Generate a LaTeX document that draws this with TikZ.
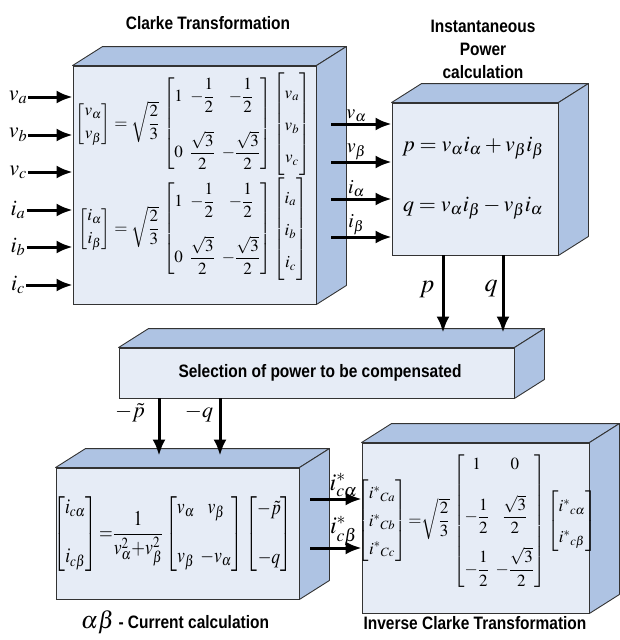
\documentclass[tikz,border=0pt]{standalone}
\usepackage{mathptmx}
\usepackage[no-math]{fontspec}
\setsansfont{Liberation Sans}[FakeStretch=0.86]
\usepackage{amsmath}
\usepackage{graphicx}
\usetikzlibrary{arrows.meta}

\definecolor{frente}{HTML}{E6ECF6}
\definecolor{lateral}{HTML}{AEC3E3}

\tikzset{
  caixa/.style={draw=black!80, line width=0.9pt, fill=frente, inner sep=0pt},
  face/.style={draw=black!80, line width=0.9pt, fill=lateral, line join=round},
  seta/.style={line width=3pt, -{Latex[length=16pt,width=13pt]}},
  titulo/.style={font=\sffamily\bfseries\fontsize{18}{23}\selectfont, align=center},
  var/.style={font=\fontsize{22}{22}\selectfont, inner sep=1pt},
  eq/.style={font=\fontsize{17}{19}\selectfont, inner sep=0pt},
}

\begin{document}
\begin{tikzpicture}[x=1pt,y=-1pt]
\useasboundingbox (0,0) rectangle (619,640);
\setlength{\arraycolsep}{3.5pt}

\node[caixa, minimum width=243pt, minimum height=238pt] (clk) at (194.5,185) {}; % Clarke
\node[caixa, minimum width=166pt, minimum height=152pt] (pot) at (475,179) {};   % Potencia
\node[caixa, minimum width=395pt, minimum height=50pt]  (sel) at (316.5,373) {}; % Selecao
\node[caixa, minimum width=243pt, minimum height=131pt] (cur) at (177.5,533.5) {}; % Corrente
\node[caixa, minimum width=227pt, minimum height=170pt] (inv) at (475.5,528) {}; % Clarke inversa

\foreach \c in {clk,pot,sel,cur,inv}{
  \draw[face] (\c.north west) -- ++(30,-19) -- ([shift={(30,-19)}]\c.north east) -- (\c.north east) -- cycle;
  \draw[face] (\c.north east) -- ++(30,-19) -- ([shift={(30,-19)}]\c.south east) -- (\c.south east) -- cycle;
}

\node[titulo] (tclk) at (208,23) {Clarke Transformation};
\node[titulo] (tpot) at (483,49) {Instantaneous\\Power\\calculation};
\node[titulo] (tsel) at (320,373) {Selection of power to be compensated};
\node[titulo] (tcur) at (175,622) {{\fontsize{24}{24}\selectfont$\alpha\beta$} - Current calculation};
\node[titulo] (tinv) at (475,623) {Inverse Clarke Transformation};

% entradas
\foreach \y/\t [count=\i] in {97/v_a,135/v_b,172/v_c,210/i_a,247/i_b,285/i_c}{
  \node[var] (in\i) at (18,\y) {$\t$};
  \draw[seta] (in\i.east) -- (in\i.east -| clk.west);
}

\node[eq] (eq1) at (193,124) {$\begin{bmatrix} v_\alpha\\[4pt] v_\beta\end{bmatrix}
  = \sqrt{\dfrac{2}{3}}\,\begin{bmatrix}1 & -\dfrac12 & -\dfrac12\\[24pt] 0 & \dfrac{\sqrt3}{2} & -\dfrac{\sqrt3}{2}\end{bmatrix}
  \renewcommand{\arraystretch}{1.7}\begin{bmatrix}v_a\\ v_b\\ v_c\end{bmatrix}$};
\node[eq] (eq2) at (193,229) {$\begin{bmatrix} i_\alpha\\[4pt] i_\beta\end{bmatrix}
  = \sqrt{\dfrac{2}{3}}\,\begin{bmatrix}1 & -\dfrac12 & -\dfrac12\\[24pt] 0 & \dfrac{\sqrt3}{2} & -\dfrac{\sqrt3}{2}\end{bmatrix}
  \renewcommand{\arraystretch}{1.7}\begin{bmatrix}i_a\\ i_b\\ i_c\end{bmatrix}$};

% Clarke -> potencia
\foreach \y/\t in {124/v_\alpha,162/v_\beta,199/i_\alpha,237/i_\beta}{
  \coordinate (s) at (331,\y);
  \draw[seta] (s) -- node[var, above, pos=0.42, font=\fontsize{20}{20}\selectfont] {$\t$} (s -| pot.west);
}

\node[var] (eqp) at (473,148) {$p = v_\alpha i_\alpha + v_\beta i_\beta$};
\node[var] (eqq) at (473,208) {$q = v_\alpha i_\beta - v_\beta i_\alpha$};

% p, q
\draw[seta, shorten >=15pt] (pot.south -| 443,0) -- (sel.north -| 443,0);
\draw[seta, shorten >=15pt] (pot.south -| 503,0) -- (sel.north -| 503,0);
\node[var, font=\fontsize{26}{26}\selectfont] (lp) at (427,289) {$p$};
\node[var, font=\fontsize{26}{26}\selectfont] (lq) at (491,289) {$q$};

% -p, -q
\draw[seta, shorten >=12pt] (sel.south -| 159,0) -- (cur.north -| 159,0);
\draw[seta, shorten >=12pt] (sel.south -| 220,0) -- (cur.north -| 220,0);
\node[var] (lmp) at (130,413) {$-\tilde{p}$};
\node[var] (lmq) at (199,413) {$-q$};

\node[eq, font=\fontsize{21}{23}\selectfont] (eq3) at (173,534) {\scalebox{0.84}[1]{$\begin{bmatrix} i_{c\alpha}\\[26pt] i_{c\beta}\end{bmatrix}
  {=}\dfrac{1}{v^2_\alpha {+} v^2_\beta}\begin{bmatrix} v_\alpha & v_\beta\\[26pt] v_\beta & -v_\alpha\end{bmatrix}
  \begin{bmatrix}-\tilde{p}\\[26pt] -q\end{bmatrix}$}};

% correntes de referencia
\foreach \y/\t in {499/i^*_{c\alpha},548/i^*_{c\beta}}{
  \coordinate (r) at (310,\y);
  \draw[seta] (r) -- node[var, above, pos=0.65, font=\fontsize{24}{24}\selectfont] {$\t$} (r -| inv.west);
}

\node[eq] (eq4) at (477,521) {$\renewcommand{\arraystretch}{1.45}\begin{bmatrix} i^*{}_{Ca}\\ i^*{}_{Cb}\\ i^*{}_{Cc}\end{bmatrix}
  {=} \sqrt{\dfrac{2}{3}}\,\renewcommand{\arraystretch}{1}\begin{bmatrix}1 & 0\\[20pt] -\dfrac12 & \dfrac{\sqrt3}{2}\\[20pt] -\dfrac12 & -\dfrac{\sqrt3}{2}\end{bmatrix}
  \renewcommand{\arraystretch}{1.6}\begin{bmatrix}i^*{}_{c\alpha}\\ i^*{}_{c\beta}\end{bmatrix}$};

\end{tikzpicture}
\end{document}
